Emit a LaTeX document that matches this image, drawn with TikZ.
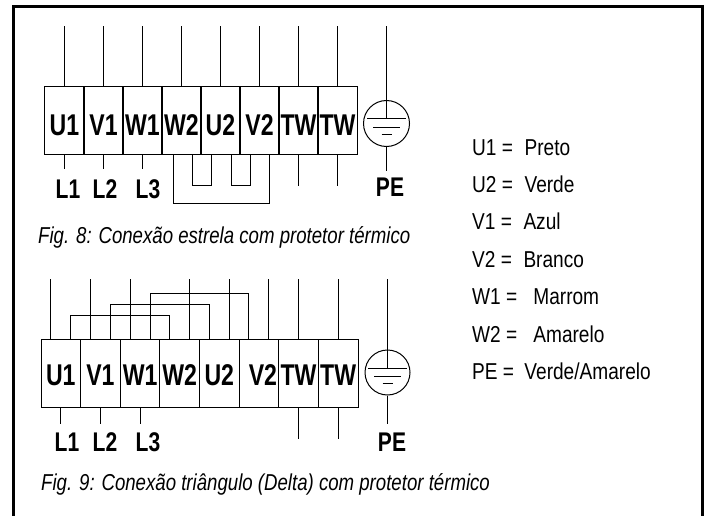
\documentclass[tikz,border=0pt]{standalone}
\usepackage{fontspec}
\setmainfont{Liberation Sans}[FakeStretch=0.77]
\newfontfamily\lblfont{Liberation Sans}[FakeStretch=0.78]
\newfontfamily\capfont{Liberation Sans}[FakeStretch=0.81]
\newfontfamily\legfont{Liberation Sans}[FakeStretch=0.83]
\usetikzlibrary{calc}
\tikzset{
  wire/.style={line width=1pt},
  cellbase/.style={draw, line width=1pt, minimum width=39.6pt, inner sep=0pt,
    font=\fontsize{30}{30}\selectfont\bfseries},
  cellA/.style={cellbase, minimum height=67pt, text height=29.5pt, text depth=0pt},
  cellB/.style={cellbase, minimum height=68pt, text height=24.5pt, text depth=0pt},
  gnd/.style={draw, circle, line width=1pt, minimum size=46pt, inner sep=0pt},
  lbl/.style={font=\lblfont\fontsize{27}{27}\selectfont\bfseries, inner sep=0pt},
  leg/.style={font=\legfont\fontsize{23}{23}\selectfont, anchor=base west, inner sep=0pt},
  captext/.style={font=\capfont\fontsize{23}{23}\selectfont\itshape, anchor=base west, inner sep=0pt},
}
\begin{document}
\begin{tikzpicture}[x=1pt,y=-1pt]
\useasboundingbox (0,0) rectangle (709,516);
% frame
\draw[line width=2.5pt] (13.5,520) -- (13.5,6.5) -- (702.5,6.5) -- (702.5,520);

% ---------- Fig. 8 ----------
\foreach \n [count=\i] in {U1,V1,W1,W2,U2,V2,TW,TW}
  \node[cellA] (a\i) at ({45+39*\i-19.5},120.5) {\n};
\foreach \i in {1,...,8}
  \draw[wire] (a\i.north) -- ++(0,-60);
\foreach \i in {1,2,3}
  \draw[wire] (a\i.south) -- ++(0,14);
\foreach \i in {7,8}
  \draw[wire] (a\i.south) -- ++(0,31);
\draw[wire] ($(a4.south)+(-8.5,0)$) -- ++(0,49) -| ($(a6.south)+(9.5,0)$);
\draw[wire] ($(a4.south)+(10.5,0)$) -- ++(0,31) -| ($(a5.south)+(-9.5,0)$);
\draw[wire] ($(a5.south)+(10.5,0)$) -- ++(0,31) -| ($(a6.south)+(-9.5,0)$);
% ground
\node[gnd] (ga) at (386.5,123.5) {};
\draw[wire] (ga.north) -- ++(0,-73.5);
\draw[wire] (ga.north) -- ($(ga.center)+(0,-4.5)$);
\draw[wire] ($(ga.center)+(-19.5,-4.5)$) -- ($(ga.center)+(19.5,-4.5)$);
\draw[wire] ($(ga.center)+(-13.5,4)$) -- ($(ga.center)+(13.5,4)$);
\draw[wire] ($(ga.center)+(-5,11)$) -- ($(ga.center)+(5,11)$);
\draw[wire] (ga.south) -- ++(0,23.5);
\node[lbl] (la1) at (68,189) {L1};
\node[lbl] (la2) at (105,189) {L2};
\node[lbl] (la3) at (148,189) {L3};
\node[lbl] (pea) at (390,187) {PE};
\node[captext] (cap8) at (38,243) {Fig. 8: Conexão estrela com protetor térmico};

% ---------- legend ----------
\foreach \t [count=\i] in {U1 =\hspace{0.5em}Preto, U2 =\hspace{0.5em}Verde,
  V1 =\hspace{0.5em}Azul, V2 =\hspace{0.5em}Branco, W1 =\hspace{0.7em}Marrom,
  W2 =\hspace{0.7em}Amarelo, PE =\hspace{0.45em}Verde/Amarelo}
  \node[leg] (leg\i) at (472,{155+37.4*(\i-1)}) {\t};

% ---------- Fig. 9 ----------
\foreach \n [count=\i] in {U1,V1,W1,W2,U2,\hspace{8pt}V2,TW,TW}
  \node[cellB] (b\i) at ({41+39.625*\i-19.8},373) {\n};
\draw[wire] ($(b1.north)+(-10,0)$) -- ++(0,-60);
\draw[wire] ($(b2.north)+(-10,0)$) -- ++(0,-60);
\draw[wire] ($(b3.north)+(-10,0)$) -- ++(0,-60);
\draw[wire] ($(b4.north)+(10,0)$) -- ++(0,-60);
\draw[wire] ($(b5.north)+(10,0)$) -- ++(0,-60);
\draw[wire] ($(b6.north)+(10,0)$) -- ++(0,-60);
\draw[wire] (b7.north) -- ++(0,-60);
\draw[wire] (b8.north) -- ++(0,-60);
\draw[wire] ($(b1.north)+(10,0)$) -- ++(0,-23) -| ($(b4.north)+(-10,0)$);
\draw[wire] ($(b2.north)+(10,0)$) -- ++(0,-34) -| ($(b5.north)+(-10,0)$);
\draw[wire] ($(b3.north)+(10,0)$) -- ++(0,-45) -| ($(b6.north)+(-10,0)$);
\foreach \i in {1,2,3}
  \draw[wire] (b\i.south) -- ++(0,16);
\foreach \i in {7,8}
  \draw[wire] (b\i.south) -- ++(0,31);
% ground
\node[gnd, minimum size=45pt] (gb) at (387.5,372.5) {};
\draw[wire] (gb.north) -- ++(0,-71);
\draw[wire] (gb.north) -- ($(gb.center)+(0,-4.5)$);
\draw[wire] ($(gb.center)+(-19.5,-4.5)$) -- ($(gb.center)+(19.5,-4.5)$);
\draw[wire] ($(gb.center)+(-13.5,4)$) -- ($(gb.center)+(13.5,4)$);
\draw[wire] ($(gb.center)+(-5,11)$) -- ($(gb.center)+(5,11)$);
\draw[wire] (gb.south) -- ++(0,28);
\node[lbl] (lb1) at (67,442) {L1};
\node[lbl] (lb2) at (105,442) {L2};
\node[lbl] (lb3) at (148,442) {L3};
\node[lbl] (peb) at (392,442) {PE};
\node[captext] (cap9) at (41,490) {Fig. 9: Conexão triângulo (Delta) com protetor térmico};
\end{tikzpicture}
\end{document}
